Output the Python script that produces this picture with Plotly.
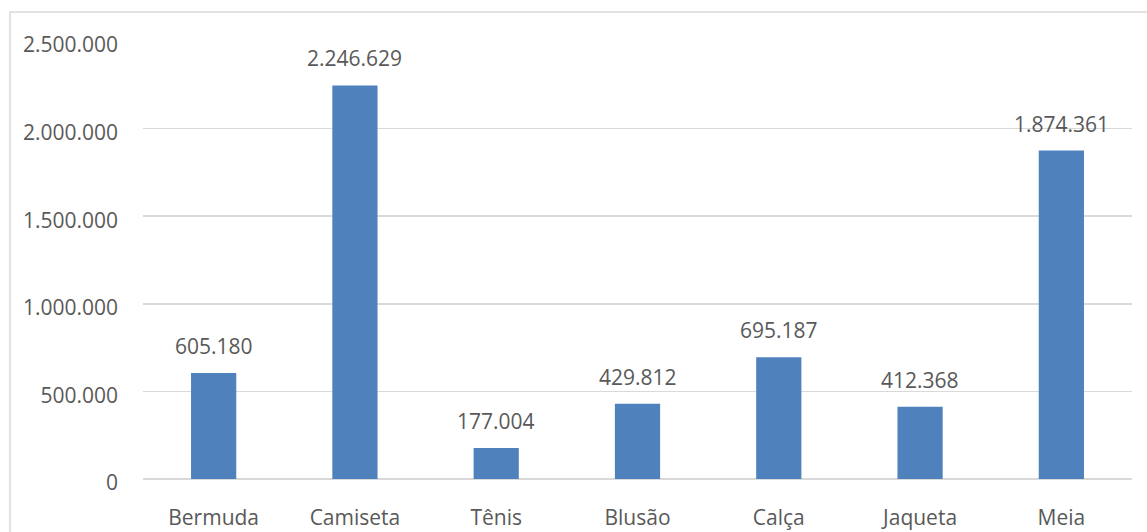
import plotly.graph_objects as go

categories = ["Bermuda", "Camiseta", "Tênis", "Blusão", "Calça", "Jaqueta", "Meia"]
values = [605180, 2246629, 177004, 429812, 695187, 412368, 1874361]
y_tick_vals = [0, 500000, 1000000, 1500000, 2000000, 2500000]
y_tick_text = ["0", "500.000", "1.000.000", "1.500.000", "2.000.000", "2.500.000"]


def fmt(v):
    return f"{v:,}".replace(",", ".")


FONT = "Open Sans"
FS = 21
TXT = "#595959"
GRID = "#D9D9D9"

fig = go.Figure()
fig.add_trace(go.Bar(
    x=categories, y=values,
    marker=dict(color="#4F81BD", line=dict(width=0)),
    width=0.32,
    hoverinfo="skip",
))

for c, v in zip(categories, values):
    fig.add_annotation(x=c, y=v, text=fmt(v), showarrow=False,
                       yanchor="bottom", yshift=11,
                       font=dict(family=FONT, size=FS, color=TXT))

W, H = 1147, 532
L, R, T, B = 143, 15, 41, 53
pw, ph = W - L - R, H - T - B

fig.add_shape(type="rect", xref="paper", yref="paper",
              x0=(10 - L) / pw, x1=(W + 20 - L) / pw,
              y0=-(B + 20) / ph, y1=1 + (T - 12) / ph,
              line=dict(color=GRID, width=1.5), fillcolor="rgba(0,0,0,0)", layer="below")

fig.update_layout(
    width=W, height=H,
    margin=dict(l=L, r=R, t=T, b=B, pad=0, autoexpand=False),
    paper_bgcolor="white", plot_bgcolor="white",
    showlegend=False,
    font=dict(family=FONT, size=FS, color=TXT),
    xaxis=dict(showgrid=False, showline=False, zeroline=False, automargin=False,
               ticks="", ticklabelstandoff=24,
               tickfont=dict(family=FONT, size=FS, color=TXT)),
    yaxis=dict(range=[0, 2500000], tickvals=y_tick_vals, ticktext=y_tick_text,
               showgrid=True, gridcolor=GRID, gridwidth=1.5, automargin=False,
               zeroline=True, zerolinecolor=GRID, zerolinewidth=2,
               showline=False, ticks="", ticklabelstandoff=24, ticklabelshift=4,
               tickfont=dict(family=FONT, size=FS, color=TXT)),
)

fig.write_html("out.html", config={"displayModeBar": False, "staticPlot": True},
               post_script="document.body.style.margin='0';document.body.style.padding='0';")
